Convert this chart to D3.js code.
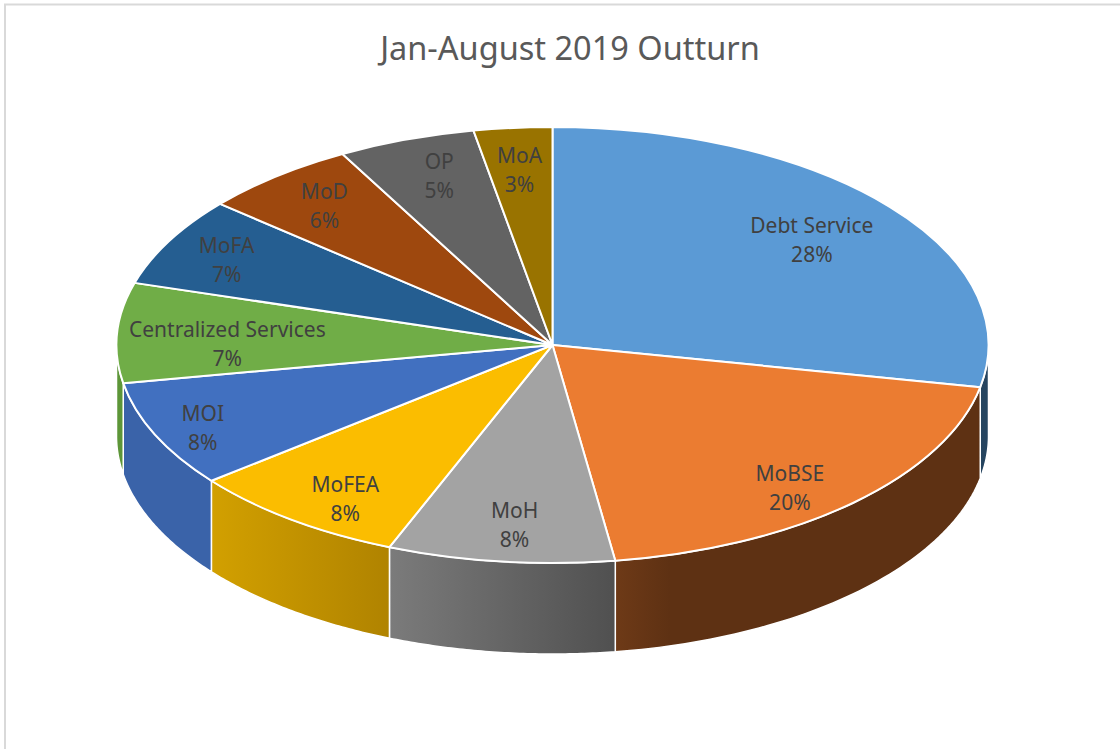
<!DOCTYPE html>
<html>
<head>
<meta charset="utf-8">
<title>Jan-August 2019 Outturn</title>
<script src="https://cdn.jsdelivr.net/npm/d3@7/dist/d3.min.js"></script>
<style>
    html, body { margin: 0; padding: 0; background: #fff; overflow: hidden; }
    svg { display: block; }
    text { font-family: "Noto Sans", "Open Sans", sans-serif; }
    .title { font-size: 32.5px; fill: #595959; }
    .label { font-size: 21px; fill: #404040; }
</style>
</head>
<body>
<script>
//chart values
var categories = ["Debt Service", "MoBSE", "MoH", "MoFEA", "MOI", "Centralized Services", "MoFA", "MoD", "OP", "MoA"];
var shares = [28.1, 19.6, 8.4, 8.2, 7.9, 7.4, 6.6, 5.8, 5.1, 2.9];
var shareLabels = ["28%", "20%", "8%", "8%", "8%", "7%", "7%", "6%", "5%", "3%"];

//slice colours: top face, then side wall left and right
var topColors = ["#5b9ad5", "#eb7c31", "#a3a3a3", "#fbbd00", "#4170c0", "#70ad47", "#255e91", "#9e480e", "#636363", "#997300"];
var wallLeft = ["#264560", "#6e3a17", "#7b7b7b", "#d2a000", "#3a63a9", "#5d9638", "#255e91", "#9e480e", "#636363", "#997300"];
var wallRight = ["#264560", "#5e3113", "#505050", "#b08300", "#3a63a9", "#5d9638", "#255e91", "#9e480e", "#636363", "#997300"];

//how far along the radius each label sits, horizontally and vertically
var labelFx = [0.77, 0.79, 0.73, 0.795, 0.88, 0.747, 0.85, 0.827, 0.774, 0.83];
var labelFy = [0.755, 0.904, 0.83, 0.88, 0.93, 0.12, 0.82, 0.822, 0.824, 0.806];

var w = 1120, h = 749;
var cx = 552.5, cy = 345, rx = 436, ry = 218, depth = 91;

var svg = d3.select("body")
    .append("svg")
    .attr("width", w)
    .attr("height", h);

//chart frame, only its top and left edges fall inside the picture
svg.append("rect")
    .attr("x", 5)
    .attr("y", 4.5)
    .attr("width", w + 20)
    .attr("height", h + 20)
    .style("fill", "#fff")
    .style("stroke", "#d9d9d9")
    .style("stroke-width", 2);

svg.append("text")
    .attr("class", "title")
    .attr("x", 570)
    .attr("y", 60)
    .attr("text-anchor", "middle")
    .text("Jan-August 2019 Outturn");

var pie = d3.pie().sort(null).value(function(d){ return d; });
var slices = pie(shares);

//point on the tilted rim, angle measured clockwise from 12 o'clock
function rim(a, drop){
    return [cx + rx * Math.sin(a), cy - ry * Math.cos(a) + drop];
}

var defs = svg.append("defs");
var line = d3.line();

//side walls, only the part of the rim facing the viewer
slices.forEach(function(s, i){
    var a0 = Math.max(s.startAngle, Math.PI / 2);
    var a1 = Math.min(s.endAngle, Math.PI * 1.5);
    if (a0 >= a1) return;

    var angles = d3.range(0, 61).map(function(k){ return a0 + (a1 - a0) * k / 60; });
    var top = angles.map(function(a){ return rim(a, 0); });
    var bottom = angles.map(function(a){ return rim(a, depth); }).reverse();

    var xs = d3.extent(top, function(p){ return p[0]; });
    var grad = defs.append("linearGradient")
        .attr("id", "wall" + i)
        .attr("gradientUnits", "userSpaceOnUse")
        .attr("x1", xs[0])
        .attr("x2", xs[1])
        .attr("y1", 0)
        .attr("y2", 0);
    grad.append("stop").attr("offset", "0%").attr("stop-color", wallLeft[i]);
    //the big orange wall darkens quickly, then stays flat
    grad.append("stop").attr("offset", i == 1 ? "15%" : "100%").attr("stop-color", wallRight[i]);

    svg.append("path")
        .attr("class", "wall")
        .attr("d", line(top.concat(bottom)) + "Z")
        .style("fill", "url(#wall" + i + ")")
        .style("stroke", "#fff")
        .style("stroke-width", 1.5);
});

//top faces: a d3 arc squashed into the ellipse
var arc = d3.arc().innerRadius(0).outerRadius(100);
var face = svg.append("g")
    .attr("transform", "translate(" + cx + "," + cy + ") scale(" + rx / 100 + "," + ry / 100 + ")");

face.selectAll(".slice")
    .data(slices)
    .enter()
    .append("path")
    .attr("class", "slice")
    .attr("d", arc)
    .attr("vector-effect", "non-scaling-stroke")
    .style("fill", function(d, i){ return topColors[i]; })
    .style("stroke", "#fff")
    .style("stroke-width", 2)
    .style("stroke-linejoin", "round");

//two line labels
var labels = svg.selectAll(".label")
    .data(slices)
    .enter()
    .append("text")
    .attr("class", "label")
    .attr("text-anchor", "middle")
    .attr("transform", function(d, i){
        var mid = (d.startAngle + d.endAngle) / 2;
        var x = cx + rx * labelFx[i] * Math.sin(mid);
        var y = cy - ry * labelFy[i] * Math.cos(mid);
        return "translate(" + x + "," + y + ")";
    });

labels.append("tspan")
    .attr("x", 0)
    .attr("y", -7)
    .text(function(d, i){ return categories[i]; });

labels.append("tspan")
    .attr("x", 0)
    .attr("y", 22)
    .text(function(d, i){ return shareLabels[i]; });
</script>
</body>
</html>
